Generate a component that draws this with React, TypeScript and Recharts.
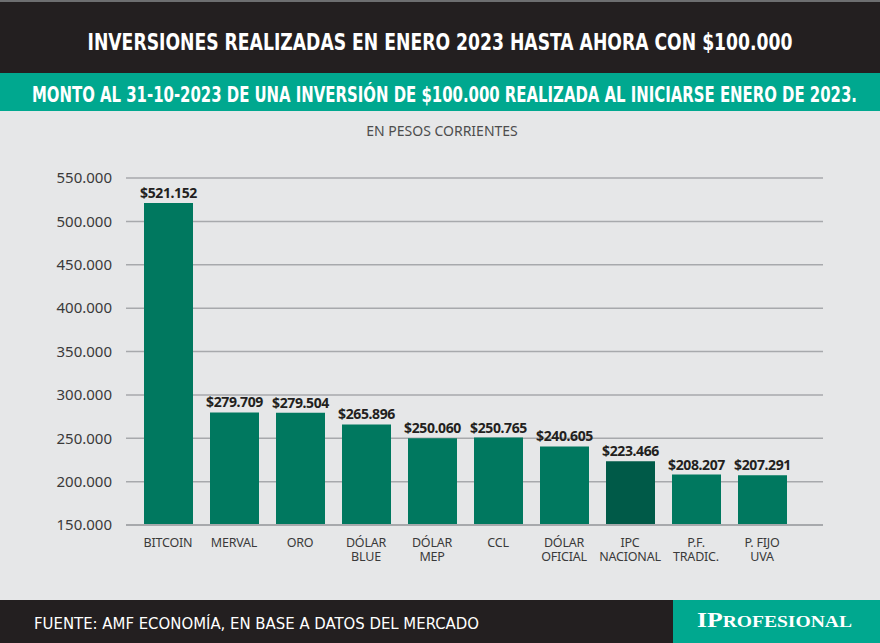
import { BarChart, Bar, XAxis, YAxis, CartesianGrid, Cell, LabelList } from "recharts";

const categories = [
  "BITCOIN",
  "MERVAL",
  "ORO",
  "DÓLAR BLUE",
  "DÓLAR MEP",
  "CCL",
  "DÓLAR OFICIAL",
  "IPC NACIONAL",
  "P.F. TRADIC.",
  "P. FIJO UVA",
];

const tickLines = [
  ["BITCOIN"],
  ["MERVAL"],
  ["ORO"],
  ["DÓLAR", "BLUE"],
  ["DÓLAR", "MEP"],
  ["CCL"],
  ["DÓLAR", "OFICIAL"],
  ["IPC", "NACIONAL"],
  ["P.F.", "TRADIC."],
  ["P.  FIJO", "UVA"],
];

const montos = [521152, 279709, 279504, 265896, 250060, 250765, 240605, 223466, 208207, 207291];

const yTicks = [150000, 200000, 250000, 300000, 350000, 400000, 450000, 500000, 550000];

const highlighted = "IPC NACIONAL";

const title = "INVERSIONES REALIZADAS EN ENERO 2023 HASTA AHORA CON $100.000";
const subtitle = "MONTO AL 31-10-2023 DE UNA INVERSIÓN DE $100.000 REALIZADA AL INICIARSE ENERO DE 2023.";
const unitNote = "EN PESOS CORRIENTES";
const source = "FUENTE: AMF ECONOMÍA, EN BASE A DATOS DEL MERCADO";

const data = categories.map((name, i) => ({ name, value: montos[i] }));

const DARK = "#231f20";
const TEAL = "#00a88f";
const BAR = "#00785f";
const BAR_DARK = "#005a48";
const BG = "#e6e7e8";
const GRID = "#a7a9ac";

const condensed = "'Liberation Sans Narrow', 'DejaVu Sans Condensed', 'Liberation Sans', sans-serif";

const miles = (n: number) => String(n).replace(/\B(?=(\d{3})+(?!\d))/g, ".");

const CategoryTick = (props: any) => {
  const { x, y, payload } = props;
  const lines = tickLines[payload.index] || [payload.value];
  return (
    <g transform={`translate(${x},${y})`}>
      {lines.map((l: string, i: number) => (
        <text
          key={i}
          x={0}
          y={14 + i * 14}
          textAnchor="middle"
          fill="#3a3a3a"
          fontSize={12.5}
          letterSpacing={-0.2}
          fontFamily="'Noto Sans', sans-serif"
        >
          {l}
        </text>
      ))}
    </g>
  );
};

export default function App() {
  return (
    <div
      style={{
        position: "fixed",
        left: 0,
        top: 0,
        width: 880,
        height: 643,
        background: BG,
        overflow: "hidden",
      }}
    >
      <svg width={880} height={111} style={{ position: "absolute", left: 0, top: 0 }}>
        <rect x={0} y={0} width={880} height={73} fill={DARK} />
        <rect x={0} y={0} width={880} height={2} fill="#6d6e70" />
        <rect x={0} y={73} width={880} height={38} fill={TEAL} />
        <text
          x={440}
          y={50}
          textAnchor="middle"
          fill="#fff"
          fontSize={23}
          fontWeight="bold"
          fontFamily={condensed}
          textLength={705}
          lengthAdjust="spacingAndGlyphs"
        >
          {title}
        </text>
        <text
          x={444.5}
          y={101.5}
          textAnchor="middle"
          fill="#fff"
          fontSize={21}
          fontWeight="bold"
          fontFamily={condensed}
          textLength={825}
          lengthAdjust="spacingAndGlyphs"
        >
          {subtitle}
        </text>
      </svg>

      <div
        style={{
          position: "absolute",
          top: 121,
          left: 0,
          width: 880,
          textAlign: "center",
          fontFamily: "'Noto Sans', sans-serif",
          fontSize: 14,
          color: "#4d4d4d",
          paddingLeft: 2,
        }}
      >
        {unitNote}
      </div>

      <div style={{ position: "absolute", top: 110, left: 0 }}>
        <BarChart
          width={880}
          height={490}
          data={data}
          margin={{ top: 68, right: 57, bottom: 45, left: 0 }}
        >
          <CartesianGrid vertical={false} stroke={GRID} strokeWidth={1.5} />
          <XAxis
            dataKey="name"
            interval={0}
            padding={{ left: 9, right: 28 }}
            tickLine={false}
            axisLine={{ stroke: GRID, strokeWidth: 2 }}
            tick={<CategoryTick />}
          />
          <YAxis
            width={126}
            domain={[150000, 550000]}
            ticks={yTicks}
            allowDataOverflow
            tickLine={false}
            axisLine={false}
            tickMargin={8}
            tickFormatter={(v: number) => miles(v)}
            tick={{ fill: "#3a3a3a", fontSize: 15, fontFamily: "'Noto Sans', sans-serif" }}
          />
          <Bar dataKey="value" barSize={49} isAnimationActive={false}>
            {data.map((d) => (
              <Cell key={d.name} fill={d.name === highlighted ? BAR_DARK : BAR} />
            ))}
            <LabelList
              dataKey="value"
              position="top"
              offset={5}
              formatter={(v: any) => "$" + miles(Number(v))}
              fill={DARK}
              fontSize={14}
              fontWeight="bold"
              fontFamily="'Noto Sans', sans-serif"
              letterSpacing={-0.4}
            />
          </Bar>
        </BarChart>
      </div>

      <svg width={880} height={43} style={{ position: "absolute", left: 0, top: 600 }}>
        <rect x={0} y={0} width={880} height={43} fill={DARK} />
        <rect x={673} y={0} width={207} height={43} fill={TEAL} />
        <text
          x={34}
          y={29}
          fill="#fff"
          fontSize={15}
          fontFamily={condensed}
          textLength={445}
          lengthAdjust="spacingAndGlyphs"
        >
          {source}
        </text>
        <text
          x={697}
          y={27}
          fill="#fff"
          fontWeight="bold"
          fontFamily="'Liberation Serif', 'DejaVu Serif', serif"
          textLength={155}
          lengthAdjust="spacingAndGlyphs"
        >
          <tspan fontSize={21}>IP</tspan>
          <tspan fontSize={16}>ROFESIONAL</tspan>
        </text>
      </svg>
    </div>
  );
}
